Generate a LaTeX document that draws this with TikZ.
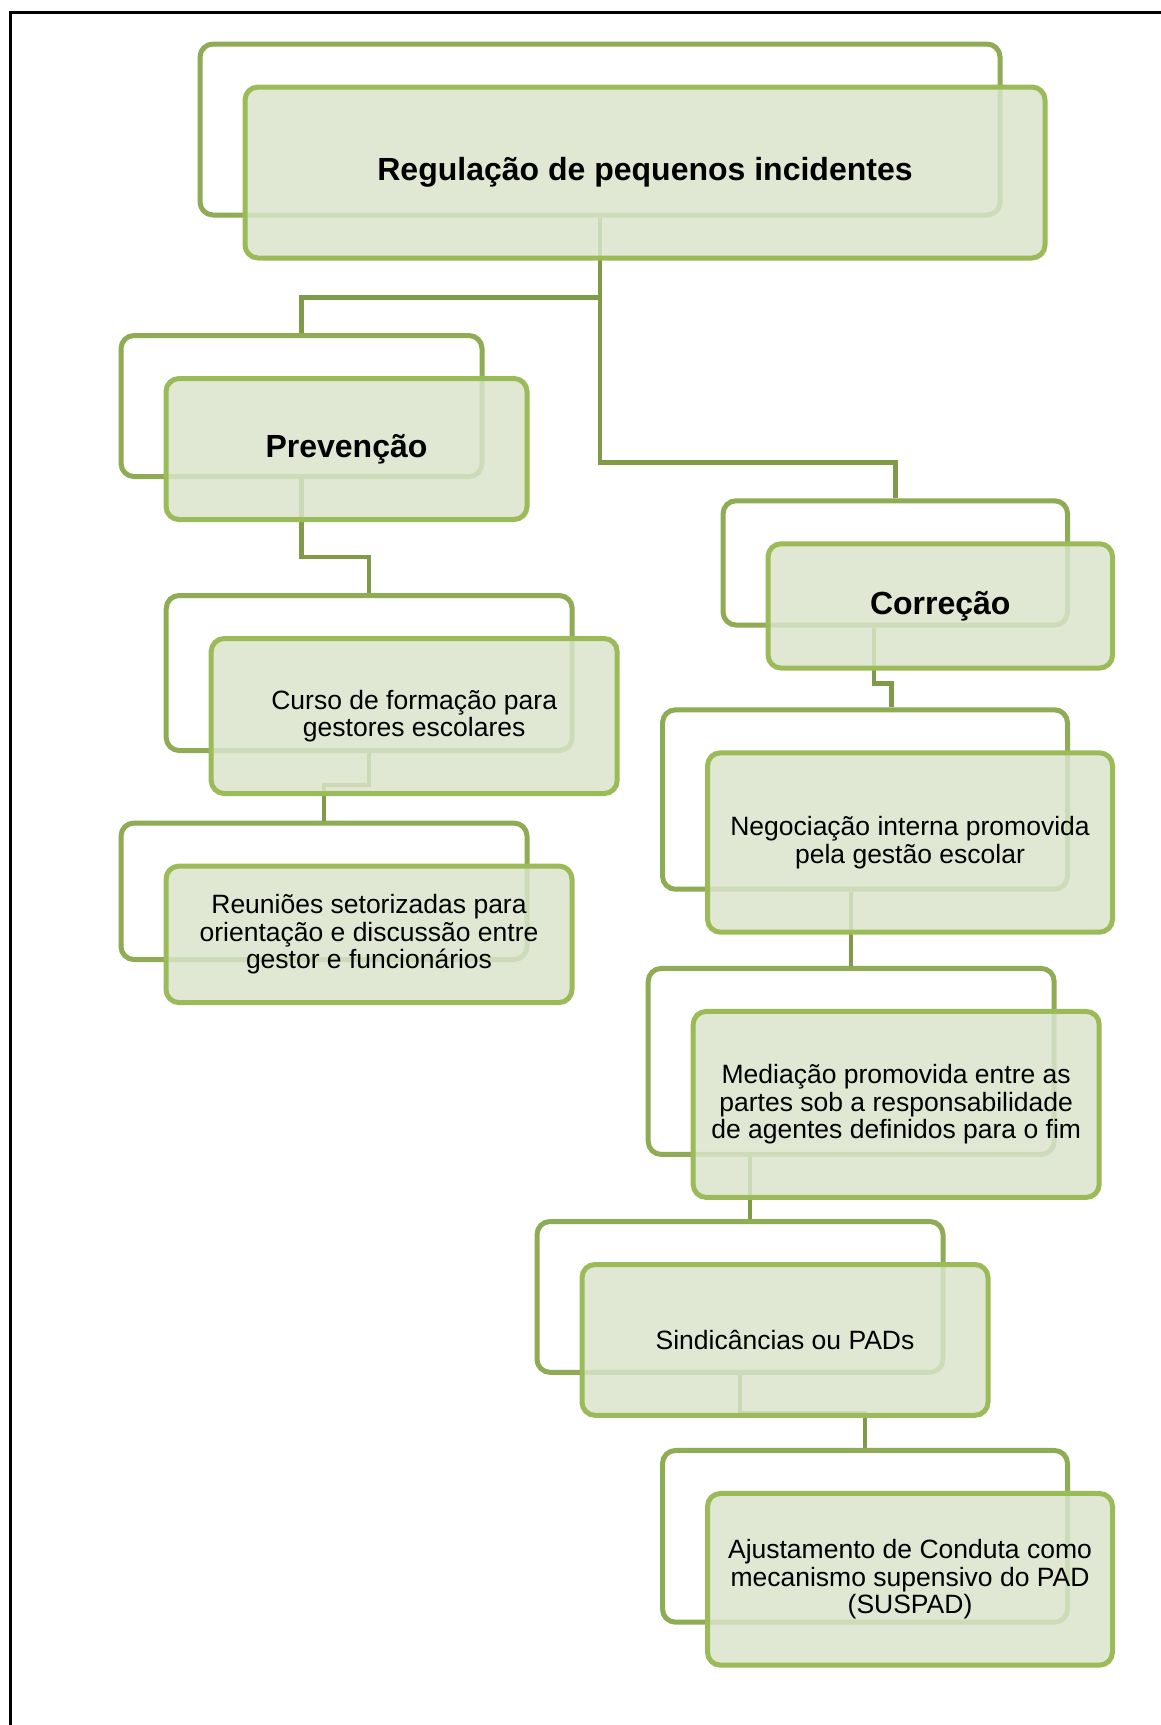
\documentclass[tikz,border=0pt]{standalone}
\usepackage{fontspec}
\setmainfont{Liberation Sans}
\definecolor{backGreen}{RGB}{143,171,84}
\definecolor{frontGreen}{RGB}{155,187,89}
\definecolor{fillGreen}{RGB}{218,228,203}
\definecolor{linkGreen}{RGB}{127,155,72}

\begin{document}
\begin{tikzpicture}[x=0.5pt, y=-0.5pt,
    backBox/.style={draw=backGreen, line width=2.5pt, rounded corners=6.5pt},
    frontBox/.style={draw=frontGreen, line width=2.5pt, rounded corners=6.5pt,
      fill=fillGreen, fill opacity=0.85, text opacity=1, align=center,
      font=\fontsize{13.25pt}{13.75pt}\selectfont},
    headBox/.style={frontBox, font=\fontsize{16pt}{17pt}\selectfont\bfseries},
    link/.style={draw=linkGreen, line width=2.2pt}]
      \useasboundingbox (0,0) rectangle (1161,1725);

      % Frame (cut at right and bottom)
      \draw[line width=1.6pt] (10.5,1725) -- (10.5,12.5) -- (1161,12.5);

      % Back boxes
      \node[backBox, minimum width=400pt, minimum height=85.5pt] (topB) at (600,129.5) {};
      \node[backBox, minimum width=180.5pt, minimum height=70.5pt] (prevB) at (301.5,406) {};
      \node[backBox, minimum width=172.25pt, minimum height=62.15pt] (corrB) at (895.3,562.9) {};
      \node[backBox, minimum width=203pt, minimum height=77.5pt] (cursoB) at (369.2,673) {};
      \node[backBox, minimum width=203pt, minimum height=68.25pt] (reunB) at (324,891.3) {};
      \node[backBox, minimum width=202.5pt, minimum height=89.7pt] (negB) at (865,799.5) {};
      \node[backBox, minimum width=203pt, minimum height=93pt] (medB) at (851.2,1061.4) {};
      \node[backBox, minimum width=203pt, minimum height=75.4pt] (sindB) at (740,1296.9) {};
      \node[backBox, minimum width=202.5pt, minimum height=85.85pt] (ajuB) at (865,1536.3) {};

      % Connectors
      \draw[link] (topB.south) -- ++(0,80) -| (prevB.north);
      \draw[link] (topB.south) -- ++(0,245) -| (corrB.north);
      \draw[link] (prevB.south) -- ++(0,78) -| (cursoB.north);
      \draw[link] (cursoB.south) -- ++(0,32) -| (reunB.north);
      \draw[link] ([xshift=-10.75pt]corrB.south) -- ++(0,56) -| ([xshift=13.2pt]negB.north);
      \draw[link] (medB.north |- negB.south) -- (medB.north);
      \draw[link] ([xshift=5pt]sindB.north |- medB.south) -- ([xshift=5pt]sindB.north);
      \draw[link] (sindB.south) -- ++(0,38) -| (ajuB.north);

      % Front boxes
      \node[headBox, minimum width=400pt, minimum height=85.5pt] (top) at (645,172.5) {Regulação de pequenos incidentes};
      \node[headBox, minimum width=180.5pt, minimum height=70.5pt] (prev) at (346.5,449) {Prevenção};
      \node[headBox, minimum width=172.25pt, minimum height=62.15pt] (corr) at (940.3,605.9) {Correção};
      \node[frontBox, minimum width=203pt, minimum height=77.5pt] (curso) at (414.2,716) {Curso de formação para\\gestores escolares};
      \node[frontBox, minimum width=203pt, minimum height=68.25pt] (reun) at (369,934.3) {Reuniões setorizadas para\\orientação e discussão entre\\gestor e funcionários};
      \node[frontBox, minimum width=202.5pt, minimum height=89.7pt] (neg) at (910,842.5) {Negociação interna promovida\\pela gestão escolar};
      \node[frontBox, minimum width=203pt, minimum height=93pt] (med) at (896.2,1104.4) {Mediação promovida entre as\\partes sob a responsabilidade\\de agentes definidos para o fim};
      \node[frontBox, minimum width=203pt, minimum height=75.4pt] (sind) at (785,1339.9) {Sindicâncias ou PADs};
      \node[frontBox, minimum width=202.5pt, minimum height=85.85pt] (aju) at (910,1579.3) {Ajustamento de Conduta como\\mecanismo supensivo do PAD\\(SUSPAD)};
    \end{tikzpicture}
\end{document}
